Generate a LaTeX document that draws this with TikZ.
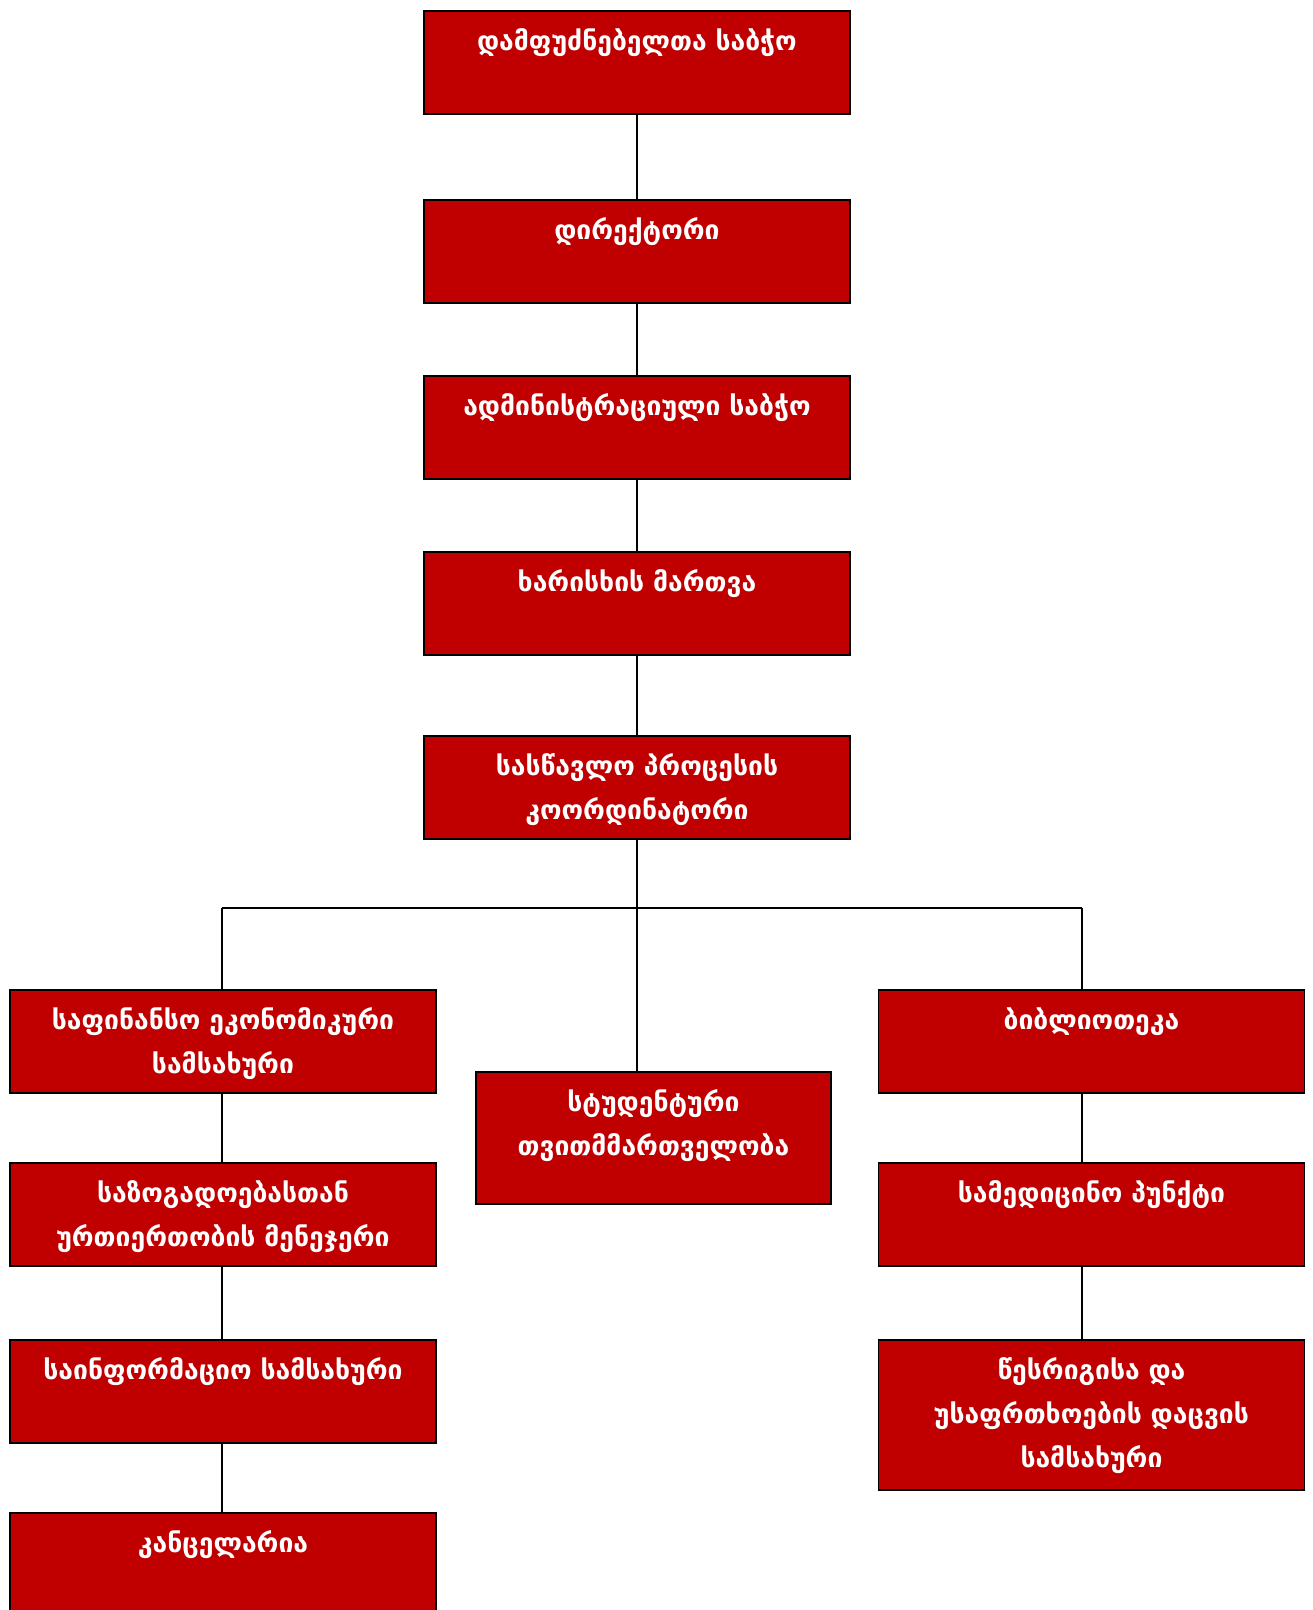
\documentclass[tikz,border=0pt]{standalone}
\usepackage{fontspec}
\usepackage{xcolor}
\usepackage{tikz}
\newfontfamily\geofont{DejaVu Sans}
\definecolor{unitred}{HTML}{C00000}
\tikzset{
    unit/.style={draw=black, line width=1.5pt, fill=unitred, text=white,
        font=\geofont\bfseries\fontsize{26.5pt}{44pt}\selectfont, inner sep=0pt,
        text width=426pt, align=center, text height=40pt, text depth=#1},
    unit/.default=63pt,
    link/.style={line width=1.5pt, draw=black}
}

\begin{document}
\begin{tikzpicture}[x=1pt,y=-1pt]
            \useasboundingbox (0,0) rectangle (1313,1610);

            %%% MAIN COLUMN %%%
            \node[unit,anchor=north] (found) at (637,10) {დამფუძნებელთა საბჭო};
            \node[unit,anchor=north] (dir) at (637,199) {დირექტორი};
            \node[unit,anchor=north] (admin) at (637,375) {ადმინისტრაციული საბჭო};
            \node[unit,anchor=north] (quality) at (637,551) {ხარისხის მართვა};
            \node[unit,anchor=north] (coord) at (637,735) {სასწავლო პროცესის\\კოორდინატორი};

            %%% LEFT COLUMN %%%
            \node[unit,anchor=north] (fin) at (223,989) {საფინანსო ეკონომიკური\\სამსახური};
            \node[unit,anchor=north] (pub) at (223,1162) {საზოგადოებასთან\\ურთიერთობის მენეჯერი};
            \node[unit,anchor=north] (info) at (223,1339) {საინფორმაციო სამსახური};
            \node[unit,anchor=north] (office) at (223,1512) {კანცელარია};

            %%% MIDDLE %%%
            \node[unit=92pt,text width=355pt,anchor=north] (stud) at (653.5,1071) {სტუდენტური\\თვითმმართველობა};

            %%% RIGHT COLUMN %%%
            \node[unit,anchor=north] (lib) at (1091.5,989) {ბიბლიოთეკა};
            \node[unit,anchor=north] (med) at (1091.5,1162) {სამედიცინო პუნქტი};
            \node[unit=110pt,anchor=north] (safety) at (1091.5,1339) {წესრიგისა და\\უსაფრთხოების დაცვის\\სამსახური};

            %%% BUS %%%
            \coordinate (bus) at (637,908);
            \coordinate (lbus) at (222,908);
            \coordinate (rbus) at (1082,908);

            %%% LINKS %%%
            \draw[link] (found.south) -- (dir.north);
            \draw[link] (dir.south) -- (admin.north);
            \draw[link] (admin.south) -- (quality.north);
            \draw[link] (quality.south) -- (coord.north);
            \draw[link] (coord.south) -- (bus);
            \draw[link] (lbus) -- (rbus);
            \draw[link] (lbus) -- (lbus |- fin.north);
            \draw[link] (bus) -- (bus |- stud.north);
            \draw[link] (rbus) -- (rbus |- lib.north);
            \draw[link] (fin.south -| lbus) -- (pub.north -| lbus);
            \draw[link] (pub.south -| lbus) -- (info.north -| lbus);
            \draw[link] (info.south -| lbus) -- (office.north -| lbus);
            \draw[link] (lib.south -| rbus) -- (med.north -| rbus);
            \draw[link] (med.south -| rbus) -- (safety.north -| rbus);
        \end{tikzpicture}
\end{document}
